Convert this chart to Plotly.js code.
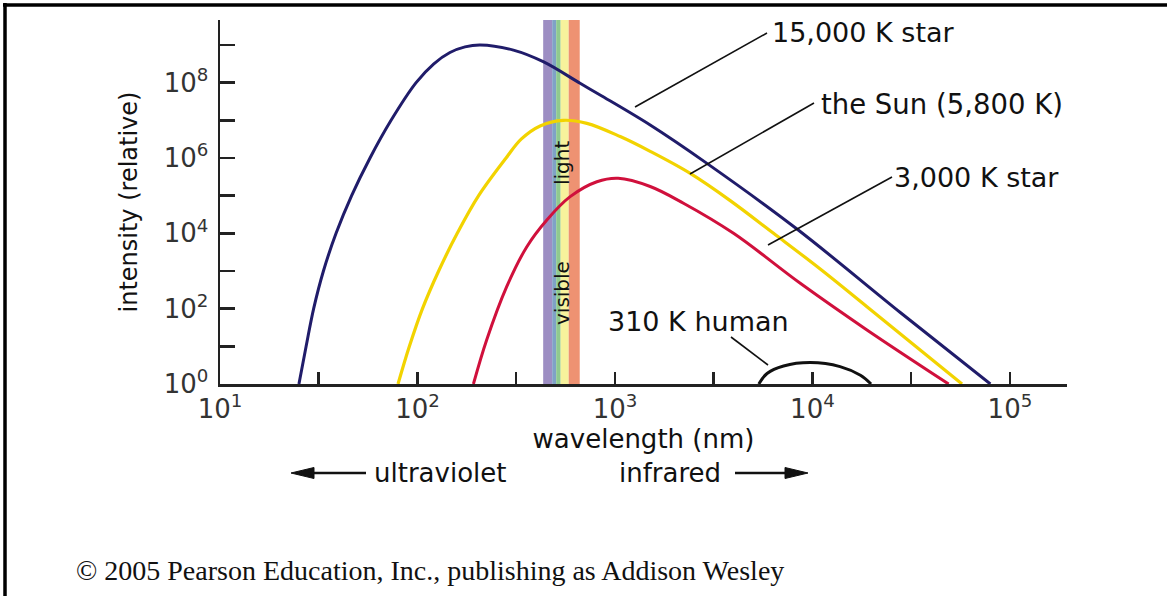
<!DOCTYPE html>
<html>
<head>
<meta charset="utf-8">
<script src="https://cdn.plot.ly/plotly-3.0.1.min.js"></script>
<style>
html,body{margin:0;padding:0;background:#fff;}
#chart{width:1167px;height:596px;}
</style>
</head>
<body>
<div id="chart"></div>
<script>
// ---- data (wavelength in nm, relative intensity) ----
const hotWavelength = [25.1, 27.3, 29.8, 33.4, 38.7, 46.4, 57.5, 73.5, 98.4, 121, 146, 174, 208, 306, 433, 666, 841, 1508, 2922, 8347, 27850, 79600];
const hotIntensity  = [1, 10, 100, 1e3, 1e4, 1e5, 1e6, 1e7, 1e8, 3.16e8, 6.3e8, 8.9e8, 1.0e9, 7.3e8, 3.6e8, 9.6e7, 4.7e7, 7.5e6, 7.2e5, 1.3e4, 79, 1];

const sunWavelength = [79.7, 91, 106, 128, 159, 204, 281, 335, 418, 547, 721, 1063, 1508, 2404, 3834, 6353, 10950, 18880, 57200];
const sunIntensity  = [1, 10, 100, 1e3, 1e4, 1e5, 1e6, 3.16e6, 7.1e6, 1.0e7, 8.3e6, 3.7e6, 1.5e6, 3.9e5, 7.4e4, 1.0e4, 1130, 113, 1];

const coolWavelength = [192, 224, 283, 358, 452, 593, 810, 1038, 1508, 2223, 3985, 8675, 18880, 48930];
const coolIntensity  = [1, 14.7, 383, 4420, 2.26e4, 9.4e4, 2.34e5, 2.89e5, 1.75e5, 6.3e4, 1.0e4, 471, 27.2, 1];

const humanWavelength = [5350, 5890, 7140, 9750, 13800, 17500, 19800];
const humanIntensity  = [1, 1.9, 3.0, 3.7, 2.9, 1.7, 1];

const bandEdges  = [433, 481, 504, 531, 583, 663];
const bandColors = ['#9d8ec3', '#7fa2c6', '#8fca8e', '#f7f29c', '#ee9272'];

const xTickVals  = [10, 100, 1000, 10000, 100000];
const xTickText  = ['10<sup>1</sup>', '10<sup>2</sup>', '10<sup>3</sup>', '10<sup>4</sup>', '10<sup>5</sup>'];
const xMinorVals = [31.62, 316.2, 3162, 31623];
const yTickVals  = [1, 100, 1e4, 1e6, 1e8];
const yTickText  = ['10<sup>0</sup>', '10<sup>2</sup>', '10<sup>4</sup>', '10<sup>6</sup>', '10<sup>8</sup>'];
const yMinorVals = [10, 1e3, 1e5, 1e7, 1e9];

// ---- layout helpers ----
const W = 1167, H = 596;
const M = {l: 220, r: 100, t: 20, b: 212};
const PW = W - M.l - M.r, PH = H - M.t - M.b;
const px = x => (x - M.l) / PW;
const py = y => (M.t + PH - y) / PH;

const SANS = 'DejaVu Sans, Arial, sans-serif';
const INK = '#111';

const traces = [];
for (let i = 0; i < bandColors.length; i++) {
  traces.push({
    x: [bandEdges[i], bandEdges[i], bandEdges[i + 1], bandEdges[i + 1]],
    y: [1, 1e10, 1e10, 1],
    mode: 'lines', fill: 'toself', fillcolor: bandColors[i],
    line: {width: 0}, hoverinfo: 'skip', showlegend: false
  });
}
traces.push({x: hotWavelength, y: hotIntensity, mode: 'lines', name: '15,000 K star',
  line: {color: '#201c6a', width: 3, shape: 'spline', smoothing: 1}, showlegend: false});
traces.push({x: sunWavelength, y: sunIntensity, mode: 'lines', name: 'the Sun (5,800 K)',
  line: {color: '#f2d300', width: 3.2, shape: 'spline', smoothing: 1}, showlegend: false});
traces.push({x: coolWavelength, y: coolIntensity, mode: 'lines', name: '3,000 K star',
  line: {color: '#d0103c', width: 3, shape: 'spline', smoothing: 1}, showlegend: false});
traces.push({x: humanWavelength, y: humanIntensity, mode: 'lines', name: '310 K human',
  line: {color: '#111', width: 3, shape: 'spline', smoothing: 1}, showlegend: false});

function label(text, x, y, opts) {
  return Object.assign({
    text: text, xref: 'paper', yref: 'paper', x: px(x), y: py(y),
    xanchor: 'left', yanchor: 'middle', showarrow: false,
    font: {family: SANS, size: 27, color: INK}
  }, opts || {});
}

const annotations = [
  label('15,000 K star', 770, 32),
  label('the Sun (5,800 K)', 819, 104, {font: {family: SANS, size: 27.5, color: INK}}),
  label('3,000 K star', 892, 177),
  label('310 K human', 606, 321),
  label('visible', 562, 293, {xanchor: 'center', textangle: -90, font: {family: SANS, size: 20, color: INK}}),
  label('light', 562, 163, {xanchor: 'center', textangle: -90, font: {family: SANS, size: 20, color: INK}}),
  label('ultraviolet', 440, 473, {xanchor: 'center', font: {family: SANS, size: 26, color: INK}}),
  label('infrared', 670, 473, {xanchor: 'center', font: {family: SANS, size: 26, color: INK}}),
  label('\u00a9 2005 Pearson Education, Inc., publishing as Addison Wesley', 74, 570,
    {font: {family: 'Liberation Serif, Times New Roman, serif', size: 28, color: INK}})
];

function seg(x0, y0, x1, y1, w, c) {
  return {type: 'line', xref: 'paper', yref: 'paper', x0: px(x0), y0: py(y0), x1: px(x1), y1: py(y1),
    line: {color: c || INK, width: w}};
}
function tri(pts) {
  const d = pts.map((p, i) => (i ? 'L' : 'M') + px(p[0]) + ',' + py(p[1])).join(' ') + ' Z';
  return {type: 'path', xref: 'paper', yref: 'paper', path: d, fillcolor: INK, line: {color: INK, width: 1}};
}

const shapes = [
  // frame
  seg(3, 5, 1167, 5, 3.5, '#000'),
  seg(5, 3, 5, 596, 3.5, '#000'),
  // leader lines
  seg(635, 107, 767, 33, 1.6),
  seg(690, 174, 814, 103, 1.6),
  seg(768, 245, 892, 177, 1.6),
  seg(731, 337, 768, 365, 1.6),
  // ultraviolet arrow
  seg(305, 473, 366, 473, 2.6),
  tri([[291, 473], [314, 467.5], [314, 478.5]]),
  // infrared arrow
  seg(735, 473, 795, 473, 2.6),
  tri([[808, 473], [785, 467.5], [785, 478.5]])
];

const axisCommon = {
  type: 'log', showline: true, linecolor: '#222', linewidth: 2.5,
  ticks: 'inside', tickwidth: 2.5, tickcolor: '#222',
  showgrid: false, zeroline: false, mirror: false, tickmode: 'array',
  tickfont: {family: SANS, size: 26, color: '#333'}, automargin: false
};

const layout = {
  width: W, height: H, margin: M,
  paper_bgcolor: '#fff', plot_bgcolor: '#fff', showlegend: false,
  xaxis: Object.assign({}, axisCommon, {
    range: [1, 5.289], tickvals: xTickVals, ticktext: xTickText, ticklen: 12,
    minor: {tickmode: 'array', tickvals: xMinorVals, ticks: 'inside', ticklen: 12, tickwidth: 2.5, tickcolor: '#222', showgrid: false},
    title: {text: 'wavelength (nm)', font: {family: SANS, size: 26, color: INK}, standoff: 6}
  }),
  yaxis: Object.assign({}, axisCommon, {
    range: [0, 9.663], tickvals: yTickVals, ticktext: yTickText, ticklen: 15,
    ticklabelstandoff: 4,
    minor: {tickmode: 'array', tickvals: yMinorVals, ticks: 'inside', ticklen: 15, tickwidth: 2.5, tickcolor: '#222', showgrid: false},
    title: {text: 'intensity (relative)', font: {family: SANS, size: 24, color: INK}, standoff: 19}
  }),
  annotations: annotations,
  shapes: shapes
};

Plotly.newPlot('chart', traces, layout, {displayModeBar: false, staticPlot: true});
</script>
</body>
</html>
